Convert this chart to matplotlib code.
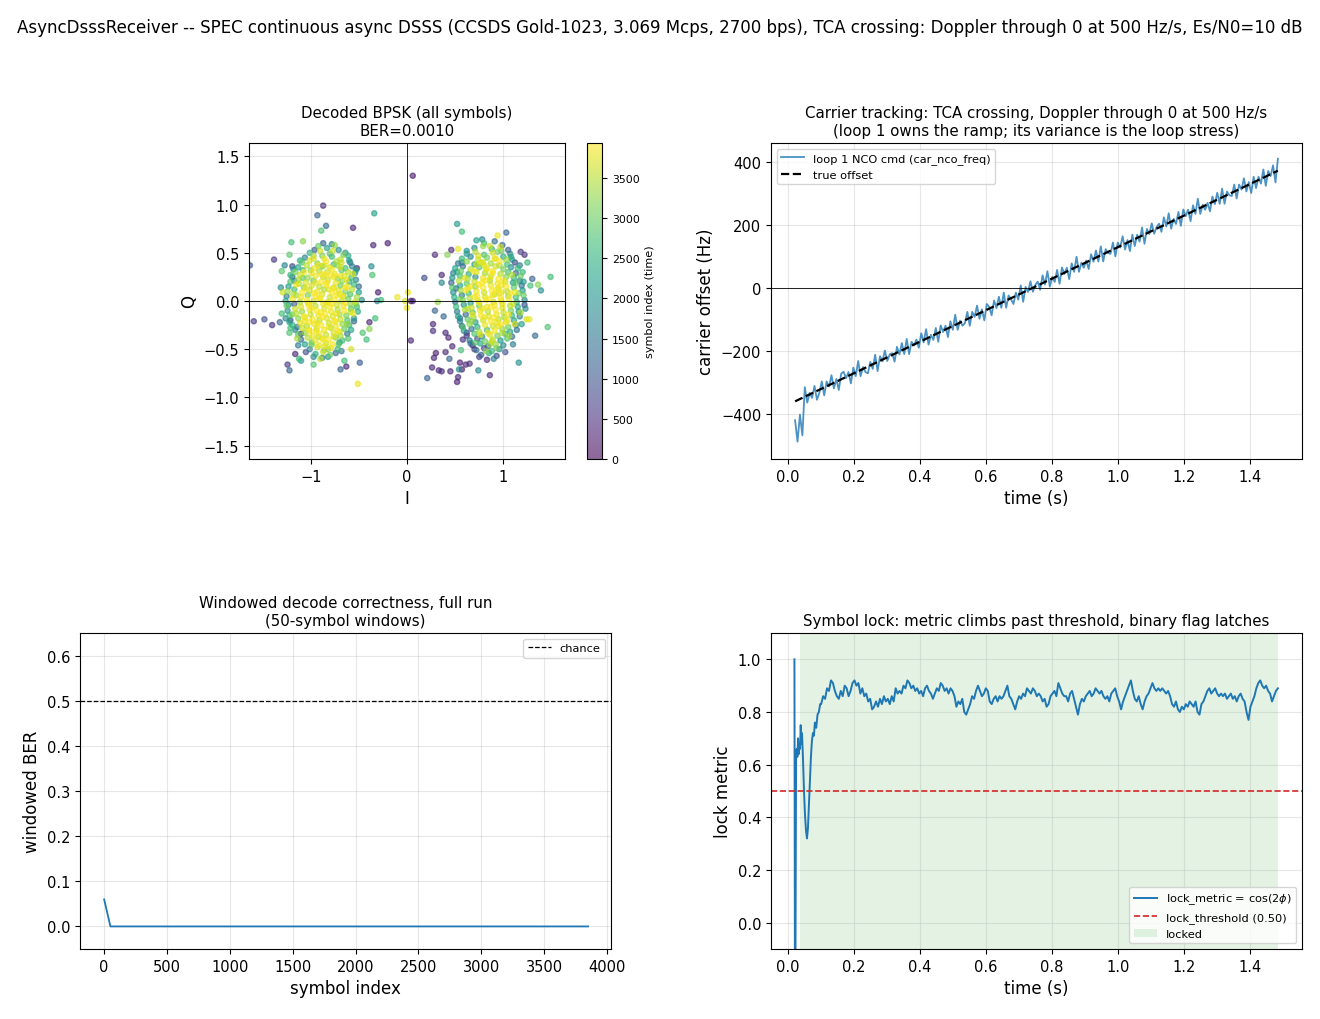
import numpy as np
import matplotlib
matplotlib.use("Agg")
import matplotlib.pyplot as plt

# ---------------- data ----------------
SUPTITLE = ("AsyncDsssReceiver -- SPEC continuous async DSSS (CCSDS Gold-1023, 3.069 Mcps, 2700 bps), "
            "TCA crossing: Doppler through 0 at 500 Hz/s, Es/N0=10 dB")
N_SYMBOLS = 3937

# constellation points: (I, Q, symbol index / 100)
outlier_pts = [
    (0.06,1.30,3),(-0.87,0.99,4),(-0.93,0.89,12),(-0.34,0.91,22),(-0.84,0.78,13),(-0.56,0.76,4),
    (-0.89,0.73,28),(-0.20,0.60,3),(-0.35,0.58,4),(-1.38,0.43,6),(-1.20,0.61,27),(-1.08,0.62,32),
    (-1.22,0.48,29),(-1.63,0.37,10),(-1.27,0.37,17),(-1.19,0.36,8),(-1.30,0.31,29),(-0.37,0.36,19),
    (-0.36,0.27,28),(-0.52,0.34,4),(-0.30,0.09,3),(-0.27,0.01,26),(-0.31,0.0,16),(-1.31,0.14,18),
    (-1.29,0.09,36),(-1.59,-0.21,6),(-1.48,-0.19,9),(-1.40,-0.25,5),(-1.32,-0.22,12),(-1.26,-0.18,18),
    (-1.30,-0.13,27),(-1.21,-0.28,27),(-1.22,-0.33,28),(-1.10,-0.34,4),(-1.16,-0.55,4),(-1.24,-0.66,6),
    (-1.22,-0.72,12),(-1.12,-0.60,26),(-1.10,-0.62,20),(-0.97,-0.66,28),(-0.88,-0.59,17),(-0.69,-0.71,12),
    (-0.63,-0.68,4),(-0.65,-0.62,27),(-0.51,-0.86,38),(-0.49,-0.64,11),(-0.39,-0.22,4),(-0.39,-0.29,32),
    (-0.33,-0.18,27),(-0.46,-0.33,28),(-0.58,-0.50,37),(-0.42,-0.40,27),
    (-0.10,0.04,38),(-0.02,0.0,37),(0.01,0.09,38),(0.0,-0.07,38),(0.04,0.0,3),(0.06,0.0,4),(0.04,-0.41,4),
    (0.52,0.80,21),(0.57,0.72,27),(1.03,0.71,12),(0.94,0.68,38),(0.46,0.53,4),(0.29,0.48,4),
    (0.42,0.48,32),(0.53,0.54,38),(1.18,0.51,6),(1.22,0.48,5),(1.25,0.40,26),(1.30,0.23,12),
    (1.49,0.25,27),(1.36,0.17,32),(1.28,0.16,27),(1.39,0.11,19),(0.18,0.24,9),(0.36,0.27,4),
    (0.36,0.19,18),(0.32,-0.01,33),(0.27,-0.24,4),(0.27,-0.31,5),(0.29,-0.10,12),(0.38,-0.16,13),
    (1.27,-0.19,38),(1.24,-0.19,37),(1.46,-0.27,28),(1.33,-0.36,13),(1.16,-0.64,19),(0.86,-0.77,4),
    (0.74,-0.72,18),(0.52,-0.84,3),(0.53,-0.79,4),(0.45,-0.73,4),(0.36,-0.73,5),(0.33,-0.72,4),
    (0.26,-0.69,4),(0.21,-0.80,12),(0.28,-0.59,4),(0.30,-0.54,3),(0.40,-0.53,4),(0.44,-0.60,12),
    (0.55,-0.64,3),(0.61,-0.66,4),(0.65,-0.65,5),(0.54,-0.71,18),(0.57,-0.71,3),(0.83,-0.61,4),
    (0.56,-0.51,27),(0.47,-0.47,4),(0.43,-0.38,4),(0.40,-0.33,4),
]

left_pts = [
    (-0.92,0.57,30),(-0.83,0.55,22),(-0.75,0.58,33),(-0.87,0.60,12),
    (-1.01,0.50,25),(-0.90,0.52,36),(-0.80,0.49,28),(-0.71,0.53,19),(-0.66,0.48,31),
    (-1.06,0.45,17),(-0.97,0.47,34),(-0.86,0.44,38),(-0.78,0.46,27),(-0.69,0.43,35),(-0.61,0.47,24),
    (-1.09,0.40,29),(-1.01,0.42,37),(-0.93,0.39,32),(-0.84,0.41,39),(-0.76,0.38,26),(-0.68,0.40,36),(-0.60,0.42,21),
    (-1.13,0.35,23),(-1.04,0.37,35),(-0.96,0.34,38),(-0.88,0.36,30),(-0.80,0.35,37),(-0.72,0.37,33),(-0.64,0.34,27),(-0.57,0.36,16),
    (-1.16,0.30,31),(-1.08,0.32,26),(-0.99,0.29,39),(-0.91,0.31,34),(-0.83,0.30,36),(-0.75,0.28,38),(-0.68,0.32,29),(-0.61,0.30,35),(-0.54,0.29,20),
    (-1.19,0.25,14),(-1.11,0.27,36),(-1.03,0.24,33),(-0.95,0.26,38),(-0.87,0.25,35),(-0.79,0.27,39),(-0.72,0.23,31),(-0.65,0.26,37),(-0.58,0.24,27),
    (-1.21,0.20,28),(-1.13,0.22,34),(-1.05,0.19,37),(-0.97,0.21,30),(-0.89,0.20,39),(-0.82,0.22,36),(-0.74,0.19,38),(-0.67,0.21,33),(-0.60,0.20,25),(-0.53,0.22,18),
    (-1.23,0.15,21),(-1.15,0.17,38),(-1.07,0.14,32),(-0.99,0.16,37),(-0.91,0.15,35),(-0.84,0.17,39),(-0.76,0.14,36),(-0.69,0.16,30),(-0.62,0.15,38),(-0.55,0.17,26),
    (-1.24,0.10,33),(-1.17,0.12,27),(-1.09,0.09,39),(-1.01,0.11,36),(-0.93,0.10,38),(-0.86,0.12,34),(-0.78,0.09,39),(-0.71,0.11,37),(-0.64,0.10,31),(-0.57,0.12,35),(-0.50,0.09,22),
    (-1.25,0.05,16),(-1.18,0.07,35),(-1.10,0.04,38),(-1.03,0.06,31),(-0.95,0.05,39),(-0.88,0.07,37),(-0.80,0.04,36),(-0.73,0.06,38),(-0.66,0.05,33),(-0.59,0.07,28),(-0.52,0.04,34),
    (-1.26,0.00,24),(-1.19,0.02,38),(-1.11,-0.01,34),(-1.04,0.01,39),(-0.97,0.00,36),(-0.90,0.02,38),(-0.82,-0.01,37),(-0.75,0.01,39),(-0.68,0.00,35),(-0.61,0.02,30),(-0.54,-0.01,36),(-0.47,0.01,19),
    (-1.25,-0.05,30),(-1.17,-0.03,11),(-1.10,-0.06,37),(-1.02,-0.04,39),(-0.95,-0.05,35),(-0.87,-0.03,38),(-0.80,-0.06,39),(-0.73,-0.04,36),(-0.66,-0.05,38),(-0.59,-0.03,32),(-0.52,-0.06,27),
    (-1.24,-0.10,20),(-1.16,-0.08,36),(-1.09,-0.11,33),(-1.01,-0.09,38),(-0.94,-0.10,39),(-0.86,-0.08,37),(-0.79,-0.11,38),(-0.72,-0.09,35),(-0.65,-0.10,39),(-0.58,-0.08,29),(-0.51,-0.11,24),
    (-1.22,-0.15,27),(-1.15,-0.13,35),(-1.07,-0.16,39),(-1.00,-0.14,36),(-0.92,-0.15,38),(-0.85,-0.13,39),(-0.77,-0.16,37),(-0.70,-0.14,34),(-0.63,-0.15,31),(-0.56,-0.13,38),
    (-1.21,-0.20,9),(-1.13,-0.18,32),(-1.06,-0.21,38),(-0.98,-0.19,39),(-0.91,-0.20,35),(-0.83,-0.18,37),(-0.76,-0.21,39),(-0.69,-0.19,36),(-0.62,-0.20,28),(-0.55,-0.18,21),
    (-1.19,-0.25,25),(-1.11,-0.23,37),(-1.04,-0.26,34),(-0.96,-0.24,38),(-0.89,-0.25,39),(-0.81,-0.23,36),(-0.74,-0.26,38),(-0.67,-0.24,33),(-0.60,-0.25,26),
    (-1.16,-0.30,18),(-1.09,-0.28,36),(-1.01,-0.31,39),(-0.94,-0.29,37),(-0.86,-0.30,38),(-0.79,-0.28,35),(-0.72,-0.31,39),(-0.65,-0.29,30),(-0.58,-0.30,23),
    (-1.13,-0.35,29),(-1.06,-0.33,33),(-0.98,-0.36,38),(-0.91,-0.34,39),(-0.84,-0.35,36),(-0.76,-0.33,37),(-0.69,-0.36,34),(-0.62,-0.34,15),
    (-1.10,-0.40,13),(-1.03,-0.38,35),(-0.95,-0.41,38),(-0.88,-0.39,37),(-0.81,-0.40,39),(-0.74,-0.38,32),(-0.67,-0.41,27),
    (-1.06,-0.45,22),(-0.99,-0.43,31),(-0.91,-0.46,38),(-0.84,-0.44,36),(-0.77,-0.45,39),(-0.70,-0.43,19),
    (-1.01,-0.50,16),(-0.93,-0.48,37),(-0.86,-0.51,33),(-0.79,-0.49,38),(-0.72,-0.50,26),
    (-0.95,-0.55,24),(-0.87,-0.53,36),(-0.80,-0.56,30),(-0.74,-0.54,12),
    (-0.90,-0.60,35),(-0.82,-0.58,20),
    (-0.91,0.03,39),(-0.84,-0.02,38),(-0.77,0.13,39),(-0.95,0.19,38),(-0.88,-0.17,39),(-0.81,-0.27,38),
    (-0.99,-0.07,39),(-0.73,-0.13,38),(-0.85,0.27,39),(-0.92,0.37,38),(-0.78,0.33,39),(-1.05,0.13,38),
    (-1.02,-0.22,39),(-0.70,0.07,38),(-0.64,-0.02,39),(-0.87,-0.40,39),(-0.94,-0.31,38),(-0.76,-0.37,37),
    (-1.07,0.30,39),(-0.69,0.26,38),
    (-0.97,0.44,37),(-0.73,0.41,34),(-0.89,0.28,39),(-1.12,0.18,35),(-0.63,0.22,38),(-0.81,0.12,37),
    (-1.03,-0.02,36),(-0.58,-0.11,35),(-0.93,-0.23,38),(-0.70,-0.32,37),(-1.14,-0.39,34),(-0.85,-0.47,38),
    (-0.77,0.52,36),(-1.00,0.32,33),(-0.67,0.05,39),(-1.19,-0.14,31),(-0.61,-0.39,28),(-0.96,0.08,39),
    (-0.74,-0.21,38),(-0.88,0.47,31),(-1.08,0.24,29),(-0.56,0.28,37),(-0.92,-0.37,35),(-0.79,-0.03,39),
    (-1.15,0.06,34),(-0.69,0.35,36),(-1.02,-0.30,38),(-0.83,0.19,39),(-0.62,-0.24,33),(-0.99,-0.45,30),
    (-0.86,0.37,37),(-1.21,0.27,26),(-0.53,-0.03,31),(-0.76,0.25,38),(-1.06,-0.17,37),(-0.90,-0.12,39),
    (-0.71,-0.45,29),(-1.11,0.42,24),(-0.64,0.14,39),(-0.82,-0.50,32),
    (-1.17,0.21,17),(-1.14,-0.27,14),(-0.59,0.40,16),(-0.55,-0.21,12),(-1.23,-0.04,19),(-0.96,0.53,11),
    (-0.68,-0.52,15),(-1.05,-0.53,9),(-0.64,0.50,20),(-1.18,0.33,21),(-0.50,0.15,13),(-1.22,-0.22,22),
    (-0.78,0.59,18),(-0.97,-0.58,17),(-0.53,0.32,23),(-1.13,-0.46,16),
]

right_pts = [
    (0.80,0.60,27),(0.91,0.62,14),(0.72,0.63,22),
    (0.70,0.55,19),(0.79,0.57,33),(0.88,0.54,25),(0.97,0.56,36),(1.05,0.53,11),
    (0.62,0.49,21),(0.71,0.51,35),(0.80,0.48,28),(0.89,0.50,37),(0.98,0.52,30),(1.07,0.49,17),
    (0.57,0.44,26),(0.66,0.46,18),(0.74,0.43,36),(0.83,0.45,31),(0.92,0.44,38),(1.00,0.46,24),(1.09,0.43,20),
    (0.53,0.39,15),(0.62,0.41,32),(0.70,0.38,22),(0.79,0.40,37),(0.87,0.39,34),(0.96,0.41,39),(1.04,0.38,27),(1.12,0.40,8),
    (0.50,0.34,23),(0.58,0.36,13),(0.66,0.33,35),(0.75,0.35,29),(0.83,0.34,38),(0.92,0.36,36),(1.00,0.33,31),(1.08,0.35,19),(1.15,0.34,26),
    (0.48,0.29,17),(0.56,0.31,30),(0.64,0.28,24),(0.72,0.30,37),(0.81,0.29,33),(0.89,0.31,39),(0.97,0.28,35),(1.05,0.30,28),(1.13,0.29,12),
    (0.47,0.24,20),(0.55,0.26,27),(0.63,0.23,34),(0.71,0.25,19),(0.79,0.24,38),(0.87,0.26,36),(0.95,0.23,39),(1.03,0.25,32),(1.11,0.24,25),(1.18,0.26,30),
    (0.46,0.19,11),(0.54,0.21,35),(0.62,0.18,29),(0.70,0.20,36),(0.78,0.19,39),(0.86,0.21,33),(0.94,0.18,38),(1.02,0.20,36),(1.10,0.19,22),(1.17,0.21,16),
    (0.47,0.14,28),(0.55,0.16,22),(0.63,0.13,37),(0.71,0.15,32),(0.79,0.14,39),(0.87,0.16,38),(0.95,0.13,35),(1.03,0.15,39),(1.11,0.14,29),(1.19,0.16,14),
    (0.48,0.09,19),(0.56,0.11,33),(0.64,0.08,26),(0.72,0.10,38),(0.80,0.09,36),(0.88,0.11,39),(0.96,0.08,37),(1.04,0.10,34),(1.12,0.09,38),(1.20,0.11,21),
    (0.49,0.04,24),(0.57,0.06,16),(0.65,0.03,35),(0.73,0.05,39),(0.81,0.04,37),(0.89,0.06,38),(0.97,0.03,39),(1.05,0.05,33),(1.13,0.04,27),(1.21,0.06,30),
    (0.50,-0.01,13),(0.58,0.01,31),(0.66,-0.02,22),(0.74,0.00,37),(0.82,0.01,39),(0.90,-0.01,36),(0.98,0.00,38),(1.06,0.02,39),(1.14,-0.01,25),(1.22,0.01,18),
    (0.51,-0.06,26),(0.59,-0.04,19),(0.67,-0.07,36),(0.75,-0.05,30),(0.83,-0.06,38),(0.91,-0.04,39),(0.99,-0.07,37),(1.07,-0.05,35),(1.15,-0.06,23),(1.22,-0.04,9),
    (0.52,-0.11,15),(0.60,-0.09,34),(0.68,-0.12,27),(0.76,-0.10,38),(0.84,-0.11,35),(0.92,-0.09,39),(1.00,-0.12,36),(1.08,-0.10,31),(1.16,-0.11,20),
    (0.53,-0.16,22),(0.61,-0.14,12),(0.69,-0.17,33),(0.77,-0.15,39),(0.85,-0.16,37),(0.93,-0.14,38),(1.01,-0.17,34),(1.09,-0.15,26),(1.17,-0.16,17),
    (0.55,-0.21,18),(0.63,-0.19,29),(0.71,-0.22,21),(0.79,-0.20,36),(0.87,-0.21,39),(0.95,-0.19,35),(1.03,-0.22,38),(1.11,-0.20,23),
    (0.57,-0.26,10),(0.65,-0.24,32),(0.73,-0.27,25),(0.81,-0.25,38),(0.89,-0.26,36),(0.97,-0.24,39),(1.05,-0.27,30),(1.13,-0.25,16),
    (0.59,-0.31,20),(0.67,-0.29,14),(0.75,-0.32,34),(0.83,-0.30,27),(0.91,-0.31,38),(0.99,-0.29,33),(1.07,-0.32,22),
    (0.62,-0.36,7),(0.70,-0.34,28),(0.78,-0.37,19),(0.86,-0.35,37),(0.94,-0.36,31),(1.02,-0.34,25),(1.09,-0.37,13),
    (0.65,-0.41,16),(0.73,-0.39,9),(0.81,-0.42,30),(0.89,-0.40,35),(0.97,-0.41,21),(1.04,-0.39,28),
    (0.68,-0.46,5),(0.76,-0.44,23),(0.84,-0.47,12),(0.92,-0.45,33),(1.00,-0.46,18),
    (0.72,-0.51,14),(0.80,-0.49,6),(0.88,-0.52,26),(0.96,-0.50,20),
    (0.77,-0.56,11),(0.85,-0.54,24),(0.93,-0.57,8),
    (0.85,0.02,39),(0.78,-0.08,38),(0.93,0.12,39),(0.86,0.23,38),(0.74,0.17,39),(0.99,-0.03,38),
    (0.90,-0.17,39),(0.82,0.32,38),(1.00,0.21,39),(0.70,0.04,38),(0.95,-0.26,37),(0.84,-0.33,38),
    (1.07,0.08,39),(0.77,0.40,37),(0.91,0.44,38),(0.68,-0.14,38),(1.05,-0.14,39),(0.88,-0.42,36),
    (0.74,0.47,37),(0.96,0.37,34),(0.81,0.21,39),(1.09,0.27,35),(0.66,0.15,38),(0.91,0.07,37),
    (1.10,-0.03,36),(0.63,-0.08,35),(0.93,-0.22,38),(0.76,-0.35,37),(1.06,-0.36,34),(0.86,-0.45,33),
    (0.86,0.57,36),(1.03,0.43,33),(0.69,0.31,39),(1.16,0.08,31),(0.58,-0.27,28),(0.97,0.16,39),
    (0.80,-0.17,38),(0.94,0.51,31),(1.13,0.19,29),(0.60,0.24,37),(0.99,-0.33,35),(0.87,-0.06,39),
    (1.18,-0.12,34),(0.72,0.38,36),(1.04,-0.20,38),(0.89,0.29,39),(0.67,-0.21,33),(0.93,-0.49,30),
    (0.80,0.37,37),(1.20,0.30,26),(0.55,0.02,31),(0.75,-0.02,38),(1.12,-0.24,37),(0.98,0.09,39),
    (0.71,-0.43,29),(1.08,0.46,24),(0.61,0.11,39),(0.82,-0.52,32),
    (1.17,0.37,17),(1.14,-0.30,14),(0.57,0.40,16),(0.55,-0.18,12),(1.23,-0.08,19),(0.99,0.58,11),
    (0.66,-0.44,15),(1.02,-0.53,9),(0.62,0.52,20),(1.21,0.20,21),(0.51,0.13,13),(1.19,-0.24,22),
    (0.78,0.64,18),(0.90,-0.60,17),(0.52,0.30,23),(1.10,-0.45,16),(0.62,-0.33,8),(0.70,-0.50,6),
    (0.58,-0.40,5),(0.75,-0.58,7),
]
BER_TEXT = "BER=0.0010"

# carrier tracking (Hz), sampled evenly from t0 to t1
nco_t0, nco_t1 = 0.021, 1.484
nco_hz = [
    -420,-488,-402,-468,-315,-364,-333,-349,-311,-355,
    -333,-297,-341,-297,-313,-277,-319,-289,-324,-272,
    -266,-287,-267,-303,-253,-280,-232,-280,-251,-267,
    -271,-235,-257,-212,-264,-217,-233,-199,-232,-211,
    -207,-234,-187,-211,-175,-210,-162,-210,-171,-183,
    -164,-190,-144,-173,-131,-180,-149,-165,-127,-171,
    -119,-140,-120,-156,-106,-133,-85,-133,-104,-120,
    -112,-76,-120,-76,-92,-56,-98,-68,-103,-51,
    -60,-87,-40,-64,-28,-63,-15,-63,-24,-36,
    -51,-15,-37,8,-44,3,-13,21,-12,9,
    20,-6,40,11,53,4,35,19,57,13,
    65,44,64,28,78,51,99,51,80,64,
    87,60,107,83,119,84,132,84,123,111,
    108,144,100,144,128,164,122,152,117,169,
    133,169,147,192,140,187,171,205,172,193,
    204,178,224,195,237,188,219,203,241,197,
    249,228,248,212,262,235,283,235,264,248,
    270,243,290,266,302,267,315,267,306,294,
    292,328,284,328,312,348,306,336,301,353,
    317,353,331,376,324,371,355,389,335,410,
]
true_t = [0.021, 1.484]
true_hz = [-360, 372]

# windowed BER (50-symbol windows)
win_start = list(range(0, 3851, 50))
win_ber = [0.06] + [0.0] * (len(win_start) - 1)
CHANCE = 0.5

# lock metric: acquisition part (explicit times) + tracking part (even samples)
lock_t_acq = [0.019,0.021,0.024,0.026,0.028,0.030,0.032,0.034,0.036,0.038,0.040,0.042,0.045,
              0.048,0.051,0.054,0.057,0.060,0.063,0.066,0.069,0.072,0.075,0.078,0.081,0.085,
              0.089,0.093,0.097]
lock_v_acq = [1.00,-0.60,0.62,0.66,0.63,0.70,0.64,0.68,0.66,0.75,0.68,0.72,0.62,
              0.50,0.41,0.35,0.32,0.36,0.45,0.55,0.63,0.69,0.72,0.71,0.76,0.74,
              0.79,0.80,0.83]
lock_trk_t0, lock_trk_t1 = 0.100, 1.484
lock_v_trk = [
    0.83,0.86,0.85,0.89,0.88,0.92,0.91,0.88,0.86,0.85,0.88,0.86,0.90,0.89,0.86,0.88,0.91,0.92,0.90,0.91,
    0.87,0.89,0.86,0.87,0.84,0.85,0.81,0.82,0.84,0.82,0.85,0.83,0.86,0.84,0.85,0.83,0.86,0.84,0.89,0.87,
    0.88,0.87,0.90,0.89,0.92,0.91,0.89,0.90,0.88,0.89,0.87,0.88,0.86,0.89,0.90,0.88,0.87,0.85,0.87,0.89,
    0.88,0.91,0.90,0.88,0.89,0.87,0.89,0.88,0.86,0.82,0.84,0.83,0.85,0.80,0.79,0.81,0.83,0.86,0.85,0.88,
    0.90,0.88,0.86,0.87,0.89,0.88,0.84,0.83,0.85,0.86,0.84,0.86,0.85,0.86,0.88,0.90,0.86,0.85,0.83,0.81,
    0.84,0.86,0.85,0.87,0.86,0.89,0.88,0.87,0.89,0.88,0.86,0.87,0.86,0.84,0.85,0.82,0.83,0.86,0.87,0.88,
    0.86,0.91,0.89,0.87,0.86,0.86,0.84,0.87,0.88,0.85,0.82,0.79,0.83,0.85,0.84,0.86,0.87,0.88,0.86,0.87,
    0.89,0.88,0.87,0.88,0.86,0.85,0.86,0.84,0.87,0.88,0.89,0.86,0.84,0.81,0.84,0.86,0.88,0.90,0.92,0.88,
    0.85,0.84,0.86,0.83,0.81,0.84,0.86,0.87,0.89,0.91,0.89,0.88,0.89,0.88,0.89,0.88,0.87,0.88,0.86,0.83,
    0.82,0.84,0.81,0.80,0.82,0.81,0.83,0.82,0.84,0.83,0.82,0.84,0.80,0.79,0.83,0.84,0.86,0.88,0.89,0.87,
    0.88,0.89,0.87,0.86,0.87,0.86,0.87,0.85,0.86,0.87,0.85,0.86,0.84,0.86,0.87,0.85,0.84,0.80,0.77,0.82,
    0.84,0.86,0.89,0.91,0.92,0.90,0.89,0.90,0.88,0.87,0.84,0.86,0.88,0.89,
]
LOCK_THRESHOLD = 0.50
locked_from, locked_to = 0.037, 1.484

# ---------------- figure ----------------
W, H = 1320, 1020
fig = plt.figure(figsize=(W / 100, H / 100), dpi=100)


def rect(x0, y0, x1, y1):
    return [x0 / W, 1 - y1 / H, (x1 - x0) / W, (y1 - y0) / H]


ax1 = fig.add_axes(rect(249, 144, 565, 460))
cax = fig.add_axes(rect(587, 144, 602, 460))
ax2 = fig.add_axes(rect(771, 144, 1302, 460))
ax3 = fig.add_axes(rect(80, 634, 611, 950))
ax4 = fig.add_axes(rect(771, 634, 1302, 950))

TITLE_FS = 10.8
LABEL_FS = 12
TICK_FS = 10.5
LEG_FS = 8.2

fig.suptitle(SUPTITLE, fontsize=12, y=1 - 28 / H, va="center")

# --- constellation
pts = np.array(outlier_pts + left_pts + right_pts, dtype=float)
order = np.argsort(pts[:, 2], kind="stable")
pts = pts[order]
sc = ax1.scatter(pts[:, 0], pts[:, 1], c=pts[:, 2] * 100, cmap="viridis", s=14, alpha=0.6,
                 vmin=0, vmax=N_SYMBOLS)
ax1.axhline(0, color="k", lw=0.6)
ax1.axvline(0, color="k", lw=0.6)
ax1.set_xlim(-1.64, 1.64)
ax1.set_ylim(-1.64, 1.64)
ax1.set_xticks([-1, 0, 1])
ax1.set_yticks([-1.5, -1.0, -0.5, 0.0, 0.5, 1.0, 1.5])
ax1.set_xlabel("I", fontsize=LABEL_FS)
ax1.set_ylabel("Q", fontsize=LABEL_FS)
ax1.set_title("Decoded BPSK (all symbols)\n" + BER_TEXT, fontsize=TITLE_FS)
ax1.grid(True, alpha=0.3)
cb = fig.colorbar(sc, cax=cax)
cb.set_ticks([0, 500, 1000, 1500, 2000, 2500, 3000, 3500])
cb.ax.tick_params(labelsize=7.8)
cb.set_label("symbol index (time)", fontsize=8.1)

# --- carrier tracking
nco_t = np.linspace(nco_t0, nco_t1, len(nco_hz))
ax2.plot(nco_t, nco_hz, color="C0", lw=1.3, alpha=0.8, label="loop 1 NCO cmd (car_nco_freq)")
ax2.plot(true_t, true_hz, "k--", lw=1.6, label="true offset")
ax2.axhline(0, color="k", lw=0.6)
ax2.set_xlim(-0.052, 1.557)
ax2.set_ylim(-543, 460)
ax2.set_xlabel("time (s)", fontsize=LABEL_FS)
ax2.set_ylabel("carrier offset (Hz)", fontsize=LABEL_FS)
ax2.set_title("Carrier tracking: TCA crossing, Doppler through 0 at 500 Hz/s\n"
              "(loop 1 owns the ramp; its variance is the loop stress)", fontsize=TITLE_FS)
ax2.legend(loc="upper left", fontsize=LEG_FS)
ax2.grid(True, alpha=0.3)

# --- windowed BER
ax3.plot(win_start, win_ber, color="C0", lw=1.3)
ax3.axhline(CHANCE, color="k", ls="--", lw=0.9, label="chance")
ax3.set_xlim(-192, 4032)
ax3.set_ylim(-0.05, 0.65)
ax3.set_xticks(range(0, 4001, 500))
ax3.set_xlabel("symbol index", fontsize=LABEL_FS)
ax3.set_ylabel("windowed BER", fontsize=LABEL_FS)
ax3.set_title("Windowed decode correctness, full run\n(50-symbol windows)", fontsize=TITLE_FS)
ax3.legend(loc="upper right", fontsize=LEG_FS)
ax3.grid(True, alpha=0.3)

# --- symbol lock
lock_t = np.concatenate([lock_t_acq, np.linspace(lock_trk_t0, lock_trk_t1, len(lock_v_trk))])
lock_v = np.concatenate([lock_v_acq, lock_v_trk])
ax4.plot(lock_t, lock_v, color="C0", lw=1.4, label=r"lock_metric = cos(2$\phi$)")
ax4.axhline(LOCK_THRESHOLD, color="C3", ls="--", lw=1.2, label="lock_threshold (0.50)")
ax4.axvspan(locked_from, locked_to, color="C2", alpha=0.13, lw=0, label="locked")
ax4.set_xlim(-0.052, 1.557)
ax4.set_ylim(-0.1, 1.1)
ax4.set_xlabel("time (s)", fontsize=LABEL_FS)
ax4.set_ylabel("lock metric", fontsize=LABEL_FS)
ax4.set_title("Symbol lock: metric climbs past threshold, binary flag latches", fontsize=TITLE_FS)
ax4.legend(loc="lower right", fontsize=LEG_FS)
ax4.grid(True, alpha=0.3)

for ax in (ax1, ax2, ax3, ax4):
    ax.tick_params(labelsize=TICK_FS)

fig.savefig("out.png", dpi=100)
